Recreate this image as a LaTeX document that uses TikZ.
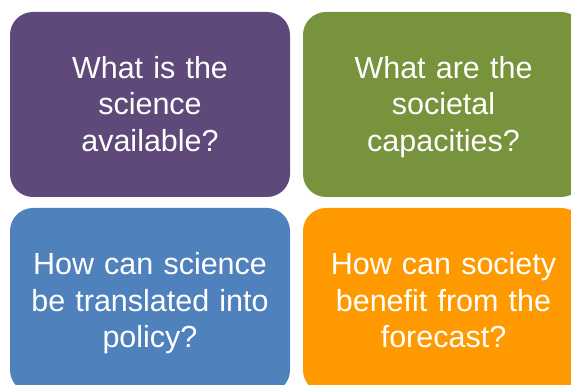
\documentclass[tikz,border=0pt]{standalone}
\usepackage{fontspec}
\setmainfont{Liberation Sans}
\definecolor{cpurple}{HTML}{5F497A}
\definecolor{cgreen}{HTML}{77933C}
\definecolor{cblue}{HTML}{4F81BD}
\definecolor{corange}{HTML}{FF9900}
\begin{document}
\begin{tikzpicture}[x=1pt,y=1pt,
  card/.style={rounded corners=23pt},
  qtext/.style={text=white, text width=275pt, align=center, inner sep=0pt, anchor=base,
    font=\fontsize{30.5}{36.5}\selectfont}]
\useasboundingbox (0,0) rectangle (571,385);
\clip (0,0) rectangle (571,385);
\fill[card, cpurple] (10,188) rectangle (290,373);
\fill[card, cgreen] (303,188) rectangle (584,373);
\fill[card, cblue] (10,-8) rectangle (290,177);
\fill[card, corange] (303,-8) rectangle (584,177);
\node[qtext] (q1) at (150,306.7) {What is the\\science\\available?};
\node[qtext] (q2) at (443.5,306.7) {What are the\\societal\\capacities?};
\node[qtext] (q3) at (150,110) {How can science\\be translated into\\policy?};
\node[qtext] (q4) at (443.5,110) {How can society\\benefit from the\\forecast?};
\end{tikzpicture}
\end{document}
